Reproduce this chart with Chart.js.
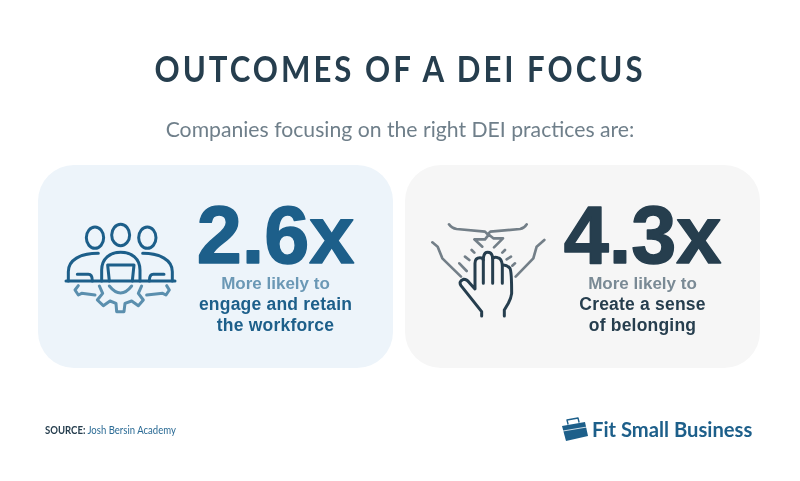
<!DOCTYPE html>
<html><head><meta charset="utf-8">
<style>
html,body{margin:0;padding:0;background:#fff;width:800px;height:481px;overflow:hidden}
#wrap{position:relative;width:800px;height:481px}
canvas{position:absolute;left:0;top:0}
svg{position:absolute;left:0;top:0;pointer-events:none}
.t{position:absolute;white-space:nowrap}
#title{left:0;width:800px;text-align:center;top:47px;font:700 35.5px "Lato",sans-serif;letter-spacing:3.4px;color:#263e4e;transform:scaleX(.878);transform-origin:center}
#sub{left:0;width:800px;text-align:center;top:116px;font:400 21.2px "Lato",sans-serif;color:#6f7f8a}
#source{left:45px;top:423px;font:11.5px "Lato",sans-serif;color:#2a6a94;transform:scaleX(.83);transform-origin:left}
#source b{color:#263e4e}
#brand{left:592px;top:417px;font:700 20.2px "Lato",sans-serif;color:#1d5f8a}
</style></head><body>
<div id="wrap">
<canvas id="c" width="800" height="481"></canvas>
<svg width="800" height="481" viewBox="0 0 800 481" fill="none" stroke-linecap="round" stroke-linejoin="round">
<g transform="translate(60,215) scale(0.3333)" stroke="#1d5f8a" stroke-width="9">
<ellipse cx="105" cy="68" rx="26" ry="32"/><ellipse cx="182" cy="60" rx="27" ry="32"/><ellipse cx="262" cy="68" rx="26" ry="32"/>
<path d="M18 198H345"/>
<path d="M125 198V165C125 130 150 112 182 112C215 112 240 130 240 165V198"/>
<path d="M148 198L143 150H222L217 198"/>
<path d="M25 198V170C25 135 60 115 115 115"/>
<path d="M337 198V170C337 135 300 115 248 115"/>
<path d="M52 178H85Q97 178 97 198"/><path d="M312 178H280Q268 178 268 198"/>
<g stroke="#5b8fae">
<path d="M148 213Q182 255 215 213"/>
<path d="M55 212L45 225L55 240L65 235L105 240"/>
<path d="M320 212L328 225L318 240L308 235L260 240"/>
<path d="M118 213L128 235L112 255L130 272L150 258L168 265L170 290H192L195 265L215 258L235 272L250 255L235 235L245 213"/>
</g></g>
<g transform="translate(425,215) scale(0.3333)" stroke="#737f88" stroke-width="8">
<path d="M72 28Q80 40 95 42L180 50L188 58L196 50L285 42Q298 40 305 28"/>
<path d="M172 95L148 73H180L192 58M234 70H205L190 58M234 70L207 97"/>
<path d="M22 82L38 95L52 130L108 185"/><path d="M358 75L335 95L325 130L272 185"/>
<path d="M103 145L125 168M120 125L133 135M140 105L148 113M240 105L232 113M258 125L245 133M270 145L262 152"/>
<g stroke="#263e4e" stroke-width="9">
<path d="M170 303V290L108 212Q100 200 115 193Q125 192 133 203L150 222V145Q150 128 165 128Q173 128 175 135Q175 112 188 112Q202 112 203 130Q210 125 218 128Q230 130 232 150Q245 148 255 160Q260 170 260 235Q258 250 250 265L238 285V303"/>
<path d="M175 135V205M203 130V205M232 150V205"/>
</g></g>
<g>
<path d="M562 426L585 422L588 436L566 441Z" fill="#1d5f8a"/>
<path d="M568 424L567 420L578 418L579 422" stroke="#1d5f8a" stroke-width="1.4"/>
<path d="M563 431L587 427" stroke="#fff" stroke-width="0.8"/>
</g>
</svg>
<div class="t" id="title">OUTCOMES OF A DEI FOCUS</div>
<div class="t" id="sub">Companies focusing on the right DEI practices are:</div>
<div class="t" id="source"><b>SOURCE:</b> Josh Bersin Academy</div>
<div class="t" id="brand">Fit Small Business</div>
</div>
<script src="https://cdn.jsdelivr.net/npm/chart.js@4"></script>
<script>
const categories = ["Engage and retain the workforce", "Create a sense of belonging"];
const multipliers = [2.6, 4.3];
const cardExtent = [1, 1];
const leadLine = ["More likely to", "More likely to"];
const outcomeLines = [["engage and retain", "the workforce"], ["Create a sense", "of belonging"]];
const cardColors = ["#edf4fa", "#f6f6f6"];
const valueColors = ["#1d5f8a", "#263e4e"];
const leadColors = ["#6b98b5", "#7a8a95"];

const cardText = {
  id: "cardText",
  afterDatasetsDraw(chart) {
    const ctx = chart.ctx;
    const bars = chart.getDatasetMeta(0).data;
    bars.forEach((bar, i) => {
      const cx = bar.x + 60, top = bar.y;
      ctx.save();
      ctx.textAlign = "center";
      ctx.textBaseline = "alphabetic";
      ctx.fillStyle = valueColors[i];
      ctx.strokeStyle = valueColors[i];
      ctx.lineWidth = 1.5;
      ctx.lineJoin = "round";
      ctx.font = '700 81px "Liberation Sans"';
      ctx.fillText(multipliers[i].toFixed(1) + "x", cx, top + 98);
      ctx.strokeText(multipliers[i].toFixed(1) + "x", cx, top + 98);
      ctx.font = '700 17px "Liberation Sans"';
      ctx.fillStyle = leadColors[i];
      ctx.fillText(leadLine[i], cx, top + 124);
      ctx.font = '700 17.5px "Liberation Sans"';
      ctx.letterSpacing = "0.2px";
      ctx.fillStyle = valueColors[i];
      ctx.fillText(outcomeLines[i][0], cx, top + 145);
      ctx.fillText(outcomeLines[i][1], cx, top + 166);
      ctx.restore();
    });
  }
};

new Chart(document.getElementById("c"), {
  type: "bar",
  data: {
    labels: categories,
    datasets: [{
      data: cardExtent,
      backgroundColor: cardColors,
      borderRadius: 36,
      borderSkipped: false,
      barPercentage: 1,
      categoryPercentage: 355 / 367
    }]
  },
  options: {
    responsive: false,
    animation: false,
    layout: { padding: { left: 32, right: 34, top: 165, bottom: 113 } },
    plugins: { legend: { display: false }, tooltip: { enabled: false } },
    scales: {
      x: { display: false },
      y: { display: false, min: 0, max: 1 }
    }
  },
  plugins: [cardText]
});
</script>
</body></html>
